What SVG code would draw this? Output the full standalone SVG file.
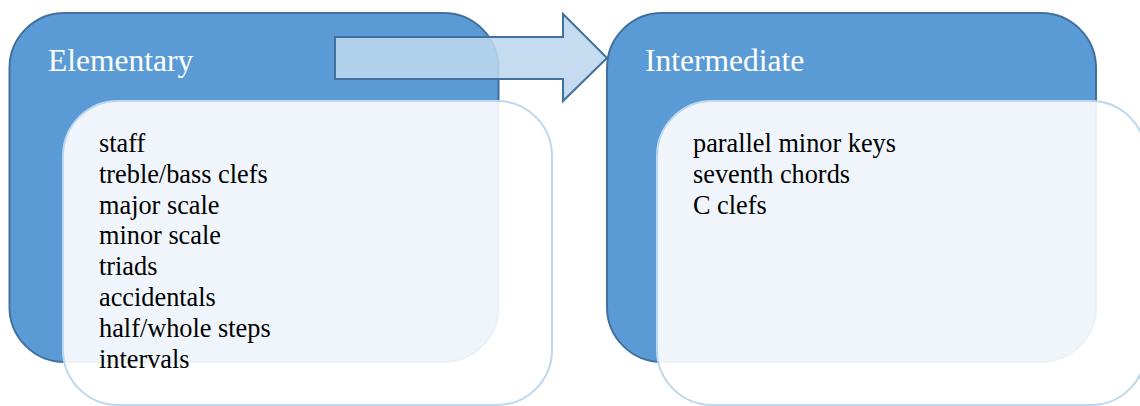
<svg xmlns="http://www.w3.org/2000/svg" width="1140" height="406" viewBox="0 0 1140 406">
<style>
.outer{fill:#5b9bd5;stroke:#41719c;stroke-width:2}
.inner{fill:#ffffff;fill-opacity:0.9;stroke:#bdd7ee;stroke-width:2}
.title{font-family:"Liberation Serif","Times New Roman",serif;font-size:31.5px;fill:#ffffff}
.body{font-family:"Liberation Serif","Times New Roman",serif;font-size:26.3px;fill:#000000}
.arrow{fill:#bdd7ee;fill-opacity:0.88;stroke:#41719c;stroke-width:2}
</style>
<rect width="1140" height="406" fill="#ffffff"/>
<g id="elementary-header">
<rect class="outer" x="9.5" y="13" width="489" height="349" rx="55" ry="55"/>
<text class="title" x="48" y="71">Elementary</text>
</g>
<g id="intermediate-header">
<rect class="outer" x="607" y="13" width="489" height="349" rx="55" ry="55"/>
<text class="title" x="645" y="71">Intermediate</text>
</g>
<g id="connectors">
<polygon class="arrow" points="335,37 563,37 563,14 607,58 563,101 563,79 335,79"/>
</g>
<g id="elementary-topics">
<rect class="inner" x="63" y="101" width="489" height="304" rx="55" ry="55"/>
<text class="body" x="99" y="152">staff</text>
<text class="body" x="99" y="182.8">treble/bass clefs</text>
<text class="body" x="99" y="213.6">major scale</text>
<text class="body" x="99" y="244.4">minor scale</text>
<text class="body" x="99" y="275.2">triads</text>
<text class="body" x="99" y="306">accidentals</text>
<text class="body" x="99" y="336.8">half/whole steps</text>
<text class="body" x="99" y="367.6">intervals</text>
</g>
<g id="intermediate-topics">
<rect class="inner" x="657" y="101" width="489" height="304" rx="55" ry="55"/>
<text class="body" x="693" y="152">parallel minor keys</text>
<text class="body" x="693" y="182.8">seventh chords</text>
<text class="body" x="693" y="213.6">C clefs</text>
</g>
</svg>
